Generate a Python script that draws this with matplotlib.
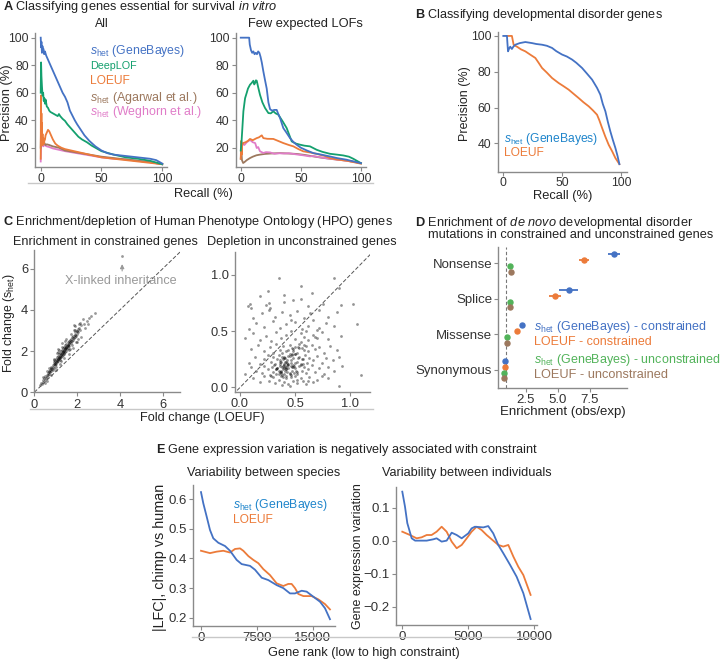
import numpy as np
import matplotlib
matplotlib.use('Agg')
import matplotlib.pyplot as plt
from matplotlib.lines import Line2D

plt.rcParams['font.family'] = ['Liberation Sans', 'DejaVu Sans']
plt.rcParams['mathtext.fontset'] = 'custom'
plt.rcParams['mathtext.rm'] = 'Liberation Sans'
plt.rcParams['mathtext.it'] = 'Liberation Sans:italic'
plt.rcParams['mathtext.bf'] = 'Liberation Sans:bold'

# colours
BLUE = '#4472C4'
LBLUE = '#1F85CB'
GREEN = '#14A06E'
DGREEN = '#52B35A'
ORANGE = '#EC7B3A'
BROWN = '#9C785E'
PINK = '#E07CC8'
AXC = '#8a8a8a'
TXT = '#222222'

# ---------------- data: panel A (all genes) ----------------
a_all_gb_rec = [0, 0.3, 0.6, 1, 1.4, 1.8, 2.2, 2.8, 3.5, 4.5, 5.5, 7, 8.5, 10, 12, 14, 16, 18, 20, 22, 24, 26, 28,
                30, 33, 36, 40, 45, 50, 55, 60, 70, 80, 90, 95, 100]
a_all_gb_prec = [100, 93, 97, 89, 94, 91, 92, 88, 90, 87, 85, 82, 79, 76, 72, 68, 64, 60, 57, 53, 47, 43.5, 40,
                 37, 33, 29, 25, 21, 18, 16, 15, 14, 13, 12, 11, 8.5]
a_all_dl_rec = [0, 0.3, 0.6, 1, 1.5, 2, 2.5, 3, 3.5, 4, 5, 6, 7, 8, 10, 12, 14, 15, 16, 18, 20, 22, 25, 28, 31,
                34, 38, 42, 46, 50, 60, 70, 80, 90, 100]
a_all_dl_prec = [60, 82, 72, 65, 58, 60, 54, 56, 52, 55, 50, 49, 47, 46, 45, 44, 43, 44.5, 43, 41, 39.5, 37, 34,
                 31, 28, 26, 24, 21.5, 19.5, 17.5, 15, 13, 12, 10.5, 8]
a_all_lo_rec = [0, 0.2, 0.4, 0.6, 0.8, 1.0, 1.2, 1.5, 1.8, 2.2, 2.6, 3, 3.5, 4, 5, 6, 7, 8, 9, 10, 12, 14, 17,
                20, 25, 30, 40, 50, 60, 70, 80, 90, 100]
a_all_lo_prec = [12, 58, 30, 45, 22, 38, 25, 30, 22, 27, 23, 25, 26, 29, 31, 33, 32, 30, 28, 26, 23, 21.5, 20,
                 19, 18, 17, 15, 13, 12, 11, 10, 9, 8]
a_all_ag_rec = [0, 0.3, 0.6, 1, 1.5, 2, 3, 4, 5, 7, 10, 15, 20, 30, 40, 50, 60, 70, 80, 90, 100]
a_all_ag_prec = [20, 36, 25, 31, 24, 23, 23.5, 22, 22.5, 22, 21, 20, 18, 16.5, 15, 13.5, 12.5, 11.5, 10.5, 9.5, 8]
a_all_we_rec = [0, 0.3, 0.6, 1, 1.5, 2, 3, 5, 7, 10, 15, 20, 30, 40, 50, 60, 70, 80, 90, 100]
a_all_we_prec = [10, 20, 30, 22, 24, 21, 22, 21, 20.5, 19.5, 18.5, 17.5, 16, 14.5, 13, 12, 11.5, 10.5, 9.5, 8]

# ---------------- data: panel A (few expected LOFs) ----------------
a_few_gb_rec = [0, 7, 7.5, 8.5, 9.5, 10.5, 11.5, 12.5, 13.5, 14.5, 15.5, 16.5, 17.5, 18.8, 20, 21.6, 23, 24.4,
                26, 28, 29.9, 31, 32.7, 35.4, 38, 41, 44, 46.5, 50, 55, 60.4, 67, 74, 80, 88, 94, 100]
a_few_gb_prec = [100, 100, 95, 91, 89, 90, 88, 89, 88, 90, 89, 86, 82, 75.5, 70, 63, 53, 48, 47, 47.5, 47.5,
                 45, 41.6, 34.3, 31, 27, 24, 22.2, 20, 18, 16.1, 15, 13.7, 12.5, 11.3, 10, 8.8]
a_few_dl_rec = [0, 0.7, 1.4, 2.2, 3, 3.6, 5, 6, 7.7, 9, 10.5, 11.2, 11.9, 12.6, 13.3, 14.5, 16, 18, 20.2, 23,
                25, 27.1, 29, 31.3, 35, 38.2, 42.4, 46, 49.4, 53, 57.6, 63.2, 68, 74.2, 80, 85.3, 90, 93.6, 100]
a_few_dl_prec = [18, 25, 35, 46.5, 52, 56, 60, 63, 65.8, 67, 68.7, 66, 67, 69, 68.7, 64, 58.5, 53, 48.9, 45.2,
                 45, 46.5, 45, 44, 39, 34.3, 24.6, 23, 22.2, 21.5, 21, 18.5, 17, 15.6, 15, 14.4, 13.5, 12, 8.8]
a_few_lo_rec = [0, 0.4, 0.8, 1.2, 2, 4, 6, 7.7, 10, 13.3, 15, 17.5, 18.8, 22, 27.1, 31, 35.4, 40, 43.8, 48,
                52, 58, 63.2, 70, 74.2, 80, 88, 94, 100]
a_few_lo_prec = [12, 25, 15, 22, 23.4, 24, 25, 26.4, 25.5, 27, 27.5, 29, 27, 26.5, 26.4, 25, 23.4, 22, 21, 19,
                 17.4, 16.5, 15.5, 14, 12.5, 11.5, 10.6, 9.5, 8.4]
a_few_we_rec = [1.4, 3, 5, 7.7, 10, 12, 13.3, 14.5, 16, 18.8, 21, 24.4, 28, 32, 36, 40, 46, 52, 57.6, 60, 65,
                74, 88, 100]
a_few_we_prec = [23, 22, 24, 25.7, 24, 23.4, 19.8, 20.5, 17.4, 16.2, 16.8, 16.6, 15.6, 16, 15.8, 16, 15.2,
                 14.5, 13.7, 14, 13.2, 12, 10.6, 8.8]
a_few_ag_rec = [0, 0.5, 1, 2, 3, 5, 7.7, 10, 13, 16, 20, 25, 32.7, 40, 46.5, 53, 60.4, 67, 74, 81, 88, 94, 100]
a_few_ag_prec = [12, 18, 11, 8.9, 9.5, 11, 12.5, 13.5, 14.5, 15, 15.5, 15.8, 16.1, 15.8, 15.5, 14.8, 13.7,
                 12.8, 12, 11.3, 10.6, 9.8, 8.8]

# ---------------- data: panel B ----------------
b_gb_rec = [0, 3.1, 3.5, 4, 5, 5.9, 7.3, 8.5, 10.2, 14, 18.7, 24.4, 28, 32.9, 37, 41.4, 45, 49.9, 54, 58.4, 62,
            66.9, 71, 75.4, 79.6, 82.4, 84.5, 86.7, 88.8, 90.9, 93, 95.2, 97, 98.6]
b_gb_prec = [100, 100, 96, 91.4, 93, 94, 92.7, 94, 95.1, 96, 96.6, 96, 95.5, 95.1, 94.5, 93.3, 91.5, 89.6, 88.5,
             86.8, 85, 82.1, 79, 75.6, 71, 67.2, 62, 57.9, 52, 46.7, 42, 37.4, 33, 28.4]
b_lo_rec = [3, 7.3, 8.8, 11.6, 15, 18.7, 23, 27.2, 30, 32.9, 37, 41.4, 47, 51, 55.5, 60, 64, 68, 72.5, 76, 79.6,
            81.5, 83.9, 86.5, 89.5, 92.5, 95.2, 98.6]
b_lo_prec = [100, 100, 95, 94, 92.5, 91.4, 89.5, 87.7, 85, 82.1, 79.5, 76.5, 73.7, 72, 70, 67.5, 65.3, 63, 60.7,
             58.5, 56, 53, 48.6, 44, 39.2, 35.5, 31.8, 28.4]

# ---------------- data: panel C ----------------
c_enr_loeuf = [0.25, 0.3, 0.35, 0.4, 0.42, 0.45, 0.5, 0.52, 0.55, 0.58, 0.6, 0.62, 0.65, 0.68, 0.7, 0.72, 0.75,
               0.77, 0.8, 0.8, 0.82, 0.85, 0.85, 0.88, 0.9, 0.9, 0.92, 0.95, 0.95, 0.97, 1.0, 1.0, 1.02, 1.05,
               1.05, 1.07, 1.1, 1.1, 1.12, 1.15, 1.15, 1.17, 1.2, 1.2, 1.22, 1.25, 1.25, 1.27, 1.3, 1.3, 1.32,
               1.35, 1.35, 1.37, 1.4, 1.4, 1.42, 1.45, 1.45, 1.47, 1.5, 1.5, 1.52, 1.55, 1.55, 1.58, 1.6, 1.6,
               1.62, 1.65, 1.68, 1.7, 1.72, 1.75, 1.78, 1.8, 1.82, 1.85, 1.88, 1.9, 1.92, 1.95, 1.97, 2.0, 2.02,
               2.05, 2.1, 2.15, 2.2, 2.3, 2.45, 2.55, 2.65, 2.85, 1.9, 2.15, 0.6, 1.0, 1.2, 1.4, 1.6, 1.3, 1.1,
               0.9, 1.75, 1.85, 1.15, 1.35, 1.55, 1.25, 1.45,
               0.95, 1.05, 1.12, 1.18, 1.28, 1.33, 1.38, 1.43, 1.48, 1.53, 1.58, 1.63, 1.7, 1.8, 1.9, 2.0,
               0.7, 0.8, 1.25, 1.5,
               0.9, 1.0, 1.1, 1.2, 1.3, 1.4, 1.5, 1.6, 1.7, 1.8, 1.9, 2.0, 2.1, 2.2, 0.7, 0.8, 0.6, 0.5, 0.4,
               1.05, 1.25, 1.45, 1.65, 1.85, 2.05, 2.35, 2.5, 2.25, 1.95, 1.15, 4.1]
c_enr_shet = [0.35, 0.45, 0.4, 0.6, 0.5, 0.7, 0.62, 0.8, 0.7, 0.85, 0.75, 0.95, 0.85, 1.0, 0.9, 1.1, 1.0, 1.15,
              1.05, 1.25, 1.15, 1.3, 1.1, 1.25, 1.35, 1.2, 1.45, 1.3, 1.5, 1.4, 1.45, 1.6, 1.35, 1.55, 1.7, 1.45,
              1.6, 1.75, 1.5, 1.7, 1.85, 1.6, 1.75, 1.9, 1.65, 1.85, 2.0, 1.75, 1.9, 2.05, 1.8, 2.0, 2.15, 1.9,
              2.05, 2.2, 1.95, 2.1, 2.3, 2.0, 2.2, 2.35, 2.1, 2.25, 2.45, 2.15, 2.35, 2.5, 2.25, 2.45, 2.55, 2.4,
              2.6, 2.5, 2.7, 2.55, 2.75, 2.65, 2.8, 2.7, 2.9, 2.75, 2.95, 2.85, 3.05, 2.9, 3.1, 3.0, 3.25, 3.3,
              3.45, 3.6, 3.7, 3.85, 3.2, 3.35, 0.55, 1.25, 1.55, 1.85, 2.05, 2.2, 1.95, 1.55, 2.3, 3.0, 1.65,
              1.95, 2.3, 1.7, 2.15,
              1.38, 1.52, 1.62, 1.72, 1.86, 1.95, 2.02, 2.08, 2.16, 2.24, 2.3, 2.38, 2.48, 2.62, 2.78, 2.95,
              1.05, 1.2, 1.8, 2.18,
              1.6, 1.1, 2.1, 1.35, 2.4, 1.65, 2.6, 1.85, 2.85, 2.15, 3.0, 2.45, 3.3, 2.7, 1.2, 0.85, 1.05,
              0.45, 0.75, 1.9, 1.5, 2.5, 2.1, 3.25, 2.6, 3.1, 3.3, 3.55, 2.45, 2.05, 6.6]

c_dep_loeuf = [0.12, 0.18, 0.22, 0.26, 0.3, 0.32, 0.35, 0.37, 0.4, 0.42, 0.44, 0.46, 0.48, 0.5, 0.52, 0.55,
               0.57, 0.6, 0.63, 0.66, 0.7, 0.74, 0.8, 0.9, 0.38, 0.45, 0.52, 0.28, 0.62,
               0.05, 0.1, 0.15, 0.2, 0.22, 0.25, 0.27, 0.29, 0.3, 0.31, 0.33, 0.34, 0.35, 0.36, 0.37, 0.38,
               0.39, 0.4, 0.4, 0.41, 0.42, 0.43, 0.44, 0.45, 0.46, 0.47, 0.48, 0.49, 0.5, 0.52, 0.54, 0.56,
               0.58, 0.6, 0.62, 0.65, 0.68, 0.72, 0.76, 0.8, 0.85, 0.93, 1.1, 0.36, 0.42, 0.38, 0.44, 0.33,
               0.47, 0.4,
               0.08, 0.14, 0.18, 0.22, 0.25, 0.28, 0.3, 0.32, 0.34, 0.35, 0.37, 0.38, 0.4, 0.41, 0.43, 0.44,
               0.46, 0.48, 0.5, 0.52, 0.54, 0.55, 0.57, 0.59, 0.61, 0.63, 0.66, 0.7, 0.74, 0.78, 0.84, 0.9,
               0.36, 0.42, 0.47, 0.39,
               0.1, 0.16, 0.22, 0.27, 0.3, 0.33, 0.36, 0.39, 0.42, 0.45, 0.48, 0.5, 0.52, 0.54, 0.56, 0.58,
               0.6, 0.62, 0.65, 0.68, 0.72, 0.76, 0.82, 0.88, 0.55, 0.47,
               0.05, 0.12, 0.18, 0.24, 0.28, 0.33, 0.37, 0.42, 0.46, 0.5, 0.55, 0.58, 0.62, 0.66, 0.7, 0.74,
               0.8, 0.92, 0.6, 0.68,
               0.08, 0.15, 0.22, 0.3, 0.36, 0.42, 0.5, 0.56, 0.62, 0.66, 0.72, 0.78, 0.85, 1.06, 0.46, 0.7,
               0.12, 0.2, 0.26, 0.32, 0.38, 0.45, 0.52, 0.58, 0.64, 0.72, 0.8, 0.88,
               0.07, 0.09, 0.1, 0.24, 0.26, 0.27, 0.4, 0.48, 0.62, 0.75, 0.92, 1.03, 0.55,
               0.25, 0.4, 0.35, 0.55, 0.65, 0.85, 0.9, 0.18,
               0.34, 0.36, 0.37, 0.39, 0.41, 0.42, 0.43, 0.45, 0.46, 0.48, 0.5, 0.51, 0.53, 0.55, 0.38, 0.4,
               0.44, 0.47, 0.35, 0.42, 0.39, 0.45, 0.5, 0.53, 0.56, 0.58, 0.43, 0.37, 0.41, 0.46, 0.52, 0.49,
               0.33, 0.44, 0.48, 0.54, 0.36, 0.4, 0.45, 0.57]
c_dep_shet = [0.08, 0.05, 0.1, 0.06, 0.09, 0.04, 0.07, 0.1, 0.05, 0.08, 0.03, 0.09, 0.06, 0.1, 0.04, 0.08,
              0.06, 0.03, 0.09, 0.05, 0.07, 0.1, 0.08, 0.01, 0.02, 0.01, 0.07, 0.1, 0.06,
              0.12, 0.18, 0.15, 0.13, 0.19, 0.16, 0.11, 0.18, 0.14, 0.2, 0.12, 0.17, 0.15, 0.19, 0.13, 0.18,
              0.16, 0.12, 0.2, 0.15, 0.18, 0.14, 0.17, 0.12, 0.19, 0.15, 0.2, 0.13, 0.17, 0.12, 0.19, 0.15,
              0.18, 0.13, 0.16, 0.2, 0.14, 0.17, 0.12, 0.18, 0.15, 0.19, 0.11, 0.14, 0.16, 0.11, 0.2, 0.16,
              0.18, 0.17,
              0.22, 0.27, 0.21, 0.25, 0.29, 0.23, 0.27, 0.21, 0.25, 0.29, 0.23, 0.27, 0.21, 0.26, 0.24, 0.28,
              0.22, 0.26, 0.3, 0.23, 0.27, 0.21, 0.25, 0.29, 0.22, 0.26, 0.24, 0.28, 0.22, 0.26, 0.24, 0.27,
              0.24, 0.23, 0.29, 0.25,
              0.34, 0.38, 0.32, 0.36, 0.31, 0.39, 0.33, 0.37, 0.32, 0.38, 0.34, 0.36, 0.31, 0.39, 0.35, 0.33,
              0.37, 0.32, 0.38, 0.34, 0.36, 0.31, 0.37, 0.33, 0.4, 0.3,
              0.44, 0.48, 0.42, 0.46, 0.41, 0.49, 0.44, 0.47, 0.5, 0.43, 0.48, 0.45, 0.42, 0.47, 0.44, 0.49,
              0.43, 0.46, 0.5, 0.45,
              0.52, 0.57, 0.54, 0.59, 0.53, 0.56, 0.58, 0.52, 0.55, 0.6, 0.53, 0.57, 0.55, 0.56, 0.6, 0.51,
              0.62, 0.66, 0.69, 0.63, 0.67, 0.64, 0.68, 0.62, 0.66, 0.69, 0.63, 0.67,
              0.72, 0.74, 0.71, 0.73, 0.75, 0.71, 0.76, 0.78, 0.72, 0.74, 0.73, 0.74, 0.79,
              0.86, 0.82, 0.97, 0.9, 0.84, 0.97, 0.88, 0.81,
              0.17, 0.21, 0.14, 0.19, 0.23, 0.16, 0.2, 0.13, 0.24, 0.18, 0.22, 0.15, 0.26, 0.2, 0.31, 0.27,
              0.33, 0.35, 0.12, 0.1, 0.09, 0.28, 0.3, 0.36, 0.25, 0.38, 0.22, 0.15, 0.18, 0.11, 0.14, 0.19,
              0.16, 0.21, 0.32, 0.35, 0.23, 0.26, 0.3, 0.21]

# ---------------- data: panel D ----------------
d_categories = ['Nonsense', 'Splice', 'Missense', 'Synonymous']
d_shet_con = [9.4, 5.88, 2.19, 0.88]
d_shet_con_err = [0.45, 0.75, 0.08, 0.05]
d_loeuf_con = [7.08, 4.79, 1.84, 0.88]
d_loeuf_con_err = [0.4, 0.47, 0.08, 0.05]
d_shet_uncon = [1.27, 1.27, 1.06, 0.8]
d_shet_uncon_err = [0.05, 0.05, 0.04, 0.04]
d_loeuf_uncon = [1.33, 1.27, 1.02, 0.8]
d_loeuf_uncon_err = [0.05, 0.05, 0.04, 0.04]

# ---------------- data: panel E ----------------
e_sp_gb_rank = [0, 310, 765, 1209, 1650, 2325, 3223, 3895, 4790, 5460, 6580, 7250, 8150, 9040, 10160, 11050,
                11950, 12620, 13520, 14190, 15080, 15980, 16650, 17320]
e_sp_gb_val = [0.624, 0.586, 0.541, 0.496, 0.468, 0.453, 0.442, 0.426, 0.395, 0.381, 0.375, 0.362, 0.335,
               0.327, 0.31, 0.30, 0.282, 0.282, 0.291, 0.288, 0.271, 0.254, 0.232, 0.195]
e_sp_lo_rank = [0, 1209, 2100, 3000, 3895, 4565, 5240, 5680, 6360, 7030, 7700, 8370, 9260, 10160, 11050, 11720,
                12170, 12620, 13070, 13750, 14860, 15750, 16650, 17320]
e_sp_lo_val = [0.426, 0.418, 0.423, 0.426, 0.42, 0.432, 0.434, 0.426, 0.408, 0.395, 0.384, 0.364, 0.344, 0.316,
               0.307, 0.314, 0.314, 0.30, 0.28, 0.273, 0.273, 0.262, 0.246, 0.228]
e_ind_gb_rank = [0, 203, 379, 712, 970, 1848, 2350, 2600, 2980, 3360, 3740, 4120, 4500, 5000, 5250, 5500, 6140,
                 6510, 6890, 7270, 7650, 8160, 8660, 9170, 9720]
e_ind_gb_val = [0.148, 0.103, 0.053, 0.007, 0.0, 0.0, 0.004, 0.007, -0.003, 0.0, 0.024, 0.017, 0.007, 0.022,
                0.037, 0.042, 0.04, 0.044, 0.022, -0.013, -0.038, -0.073, -0.109, -0.159, -0.237]
e_ind_lo_rank = [0, 580, 1086, 1465, 1848, 2220, 2600, 2980, 3360, 3740, 4120, 4500, 4880, 5250, 5630, 6010,
                 6390, 6770, 7270, 7650, 8030, 8410, 8790, 9170, 9720]
e_ind_lo_val = [0.027, 0.017, 0.007, 0.01, 0.017, 0.017, 0.027, 0.042, 0.027, -0.003, -0.023, -0.013, 0.007,
                0.027, 0.042, 0.032, 0.017, 0.004, -0.013, -0.018, -0.013, -0.048, -0.079, -0.104, -0.164]

# ---------------- layout helpers ----------------
W, H = 720, 661
fig = plt.figure(figsize=(7.2, 6.61), dpi=100)
renderer = fig.canvas.get_renderer()


def box(l, t, r, b):
    return [l / W, 1 - b / H, (r - l) / W, (b - t) / H]


def fit_size(s, width_px):
    # font size that gives the text the width seen in the reference
    t = fig.text(0, 0, s, fontsize=10)
    w = t.get_window_extent(renderer).width
    t.remove()
    return 10 * width_px / w


def ftext(x, y, s, width, **kw):
    kw.setdefault('color', TXT)
    kw.setdefault('va', 'center')
    fig.text(x / W, 1 - y / H, s, fontsize=fit_size(s, width), **kw)


def hline(y, x0, x1):
    fig.add_artist(Line2D([x0 / W, x1 / W], [1 - y / H, 1 - y / H], color='#c8c8c8', lw=1.0))


def style(ax, size):
    for s in ['top', 'right']:
        ax.spines[s].set_visible(False)
    for s in ['left', 'bottom']:
        ax.spines[s].set_color(AXC)
        ax.spines[s].set_linewidth(1.0)
    ax.tick_params(colors=AXC, labelcolor='#333333', labelsize=size, length=3, width=0.8, pad=1.5)
    ax.patch.set_alpha(0)


SHET = r'$s_\mathrm{het}$'
LW = 1.3

# ---------------- panel A ----------------
ftext(3, 7, r'$\mathbf{A}$ Classifying genes essential for survival $\mathit{in\ vitro}$', 273)
ftext(101.5, 24, 'All', 13.5, ha='center')
ftext(305, 24, 'Few expected LOFs', 115, ha='center')

ax = fig.add_axes(box(35, 33, 167, 167))
ax.plot(a_all_we_rec, a_all_we_prec, color=PINK, lw=LW)
ax.plot(a_all_ag_rec, a_all_ag_prec, color=BROWN, lw=LW)
ax.plot(a_all_lo_rec, a_all_lo_prec, color=ORANGE, lw=LW)
ax.plot(a_all_dl_rec, a_all_dl_prec, color=GREEN, lw=LW)
ax.plot(a_all_gb_rec, a_all_gb_prec, color=BLUE, lw=LW)
ax.set_xlim(-4.7, 103.9)
ax.set_ylim(6, 103.4)
ax.set_xticks([0, 50, 100])
ax.set_yticks([20, 40, 60, 80, 100])
style(ax, 8.8)

ax = fig.add_axes(box(235.7, 33, 366, 167))
ax.plot(a_few_ag_rec, a_few_ag_prec, color=BROWN, lw=LW)
ax.plot(a_few_we_rec, a_few_we_prec, color=PINK, lw=LW)
ax.plot(a_few_lo_rec, a_few_lo_prec, color=ORANGE, lw=LW)
ax.plot(a_few_dl_rec, a_few_dl_prec, color=GREEN, lw=LW)
ax.plot(a_few_gb_rec, a_few_gb_prec, color=BLUE, lw=LW)
ax.set_xlim(-4.2, 104.2)
ax.set_ylim(6, 103.4)
ax.set_xticks([0, 50, 100])
ax.set_yticks([20, 40, 60, 80, 100])
style(ax, 8.8)

a_leg = [(SHET + ' (GeneBayes)', BLUE, 51, 95), ('DeepLOF', GREEN, 65.7, 46.7), ('LOEUF', ORANGE, 80.7, 40),
         (SHET + ' (Agarwal et al.)', BROWN, 97.7, 107), (SHET + ' (Weghorn et al.)', PINK, 112.3, 111.7)]
for s, c, y, w in a_leg:
    ftext(90, y, s, w, color=c)

ftext(7, 103, 'Precision (%)', 77, rotation=90, ha='center')
ftext(203, 194, 'Recall (%)', 59, ha='center')
hline(183, 28, 373)

# ---------------- panel B ----------------
ftext(415, 15, r'$\mathbf{B}$ Classifying developmental disorder genes', 248)
ax = fig.add_axes(box(497.7, 32, 626.7, 172))
ax.plot(b_lo_rec, b_lo_prec, color=ORANGE, lw=LW)
ax.plot(b_gb_rec, b_gb_prec, color=BLUE, lw=LW)
ax.set_xlim(-4.76, 104.8)
ax.set_ylim(24, 102.2)
ax.set_xticks([0, 50, 100])
ax.set_yticks([40, 60, 80, 100])
style(ax, 8.8)
ax.tick_params(axis='x', pad=0.5)
ftext(504, 139, SHET + ' (GeneBayes)', 94, color=LBLUE)
ftext(504, 153, 'LOEUF', 40, color=ORANGE)
ftext(465, 104, 'Precision (%)', 75, rotation=90, ha='center')
ftext(563, 196.5, 'Recall (%)', 60, ha='center')

# ---------------- panel C ----------------
ftext(3, 222, r'$\mathbf{C}$ Enrichment/depletion of Human Phenotype Ontology (HPO) genes', 389)
ftext(105.5, 242, 'Enrichment in constrained genes', 185, ha='center')
ftext(301.5, 242, 'Depletion in unconstrained genes', 189, ha='center')

ax = fig.add_axes(box(34.3, 250, 180, 392.3))
ax.plot([0, 7], [0, 7], color='#555555', lw=0.7, ls=(0, (4, 2)))
ax.scatter(c_enr_loeuf, c_enr_shet, s=4, color='black', alpha=0.4, lw=0)
ax.annotate('', xy=(4.1, 6.35), xytext=(4.1, 5.75),
            arrowprops=dict(arrowstyle='-|>', color='#999999', lw=0.8, mutation_scale=6))
ax.text(4.05, 5.4, 'X-linked inheritance', color='#999999', fontsize=fit_size('X-linked inheritance', 112),
        ha='center', va='center')
ax.set_xlim(0, 6.8)
ax.set_ylim(0, 6.9)
ax.set_xticks([0, 2, 4, 6])
ax.set_yticks([0, 2, 4, 6])
style(ax, 9.3)

ax = fig.add_axes(box(235, 251.7, 370, 392))
ax.plot([-0.1, 1.3], [-0.1, 1.3], color='#555555', lw=0.7, ls=(0, (4, 2)))
ax.scatter(c_dep_loeuf, c_dep_shet, s=4, color='black', alpha=0.42, lw=0)
ax.set_xlim(-0.045, 1.18)
ax.set_ylim(-0.04, 1.207)
ax.set_xticks([0, 0.5, 1.0])
ax.set_xticklabels(['0.0', '0.5', '1.0'])
ax.set_yticks([0, 0.5, 1.0])
ax.set_yticklabels(['0.0', '0.5', '1.0'])
style(ax, 9.3)

ftext(9, 323, r'Fold change ($\mathrm{s_{het}}$)', 100, rotation=90, ha='center')
ftext(202.5, 418.3, 'Fold change (LOEUF)', 125, ha='center')
hline(409.3, 30, 373)

# ---------------- panel D ----------------
ftext(415, 222.7, r'$\mathbf{D}$ Enrichment of $\mathit{de\ novo}$ developmental disorder', 278)
ftext(428, 235.5, 'mutations in constrained and unconstrained genes', 285)
ax = fig.add_axes(box(498.3, 246.7, 626.7, 387.7))
ypos = np.array([4, 3, 2, 1])
ax.axvline(1, color='#777777', lw=0.8, ls=(0, (3, 2)))
d_series = [(d_shet_con, d_shet_con_err, BLUE, 0.25), (d_loeuf_con, d_loeuf_con_err, ORANGE, 0.083),
            (d_shet_uncon, d_shet_uncon_err, DGREEN, -0.083), (d_loeuf_uncon, d_loeuf_uncon_err, BROWN, -0.25)]
for vals, err, c, off in d_series:
    ax.errorbar(vals, ypos + off, xerr=err, fmt='o', color=c, ms=3.6, elinewidth=1.3, capsize=0)
ax.set_xlim(0.36, 10.4)
ax.set_ylim(0.49, 4.46)
ax.set_xticks([2.5, 5.0, 7.5])
ax.set_yticks(ypos)
ax.set_yticklabels(d_categories)
style(ax, 9.5)
d_leg = [(SHET + ' (GeneBayes) - constrained', BLUE, 326.7, 173), ('LOEUF - constrained', ORANGE, 341.7, 118),
         (SHET + ' (GeneBayes) - unconstrained', DGREEN, 360, 187), ('LOEUF - unconstrained', BROWN, 375, 134)]
for s, c, y, w in d_leg:
    ftext(533.5, y, s, w, color=c)
ftext(563, 412.3, 'Enrichment (obs/exp)', 126.7, ha='center')

# ---------------- panel E ----------------
ftext(156, 450, r'$\mathbf{E}$ Gene expression variation is negatively associated with constraint', 382)
ftext(263.3, 473, 'Variability between species', 153, ha='center')
ftext(467, 473, 'Variability between individuals', 169, ha='center')

ax = fig.add_axes(box(192.7, 485, 335, 625.7))
ax.plot(e_sp_lo_rank, e_sp_lo_val, color=ORANGE, lw=LW)
ax.plot(e_sp_gb_rank, e_sp_gb_val, color=BLUE, lw=LW)
ax.set_xlim(-1115, 17995)
ax.set_ylim(0.173, 0.648)
ax.set_xticks([0, 7500, 15000])
ax.set_yticks([0.2, 0.3, 0.4, 0.5, 0.6])
style(ax, 9.5)
ftext(233, 505, SHET + ' (GeneBayes)', 95, color=LBLUE)
ftext(233, 520, 'LOEUF', 40, color=ORANGE)

ax = fig.add_axes(box(396, 486.7, 537.3, 625))
ax.plot(e_ind_lo_rank, e_ind_lo_val, color=ORANGE, lw=LW)
ax.plot(e_ind_gb_rank, e_ind_gb_val, color=BLUE, lw=LW)
ax.set_xlim(-477, 10227)
ax.set_ylim(-0.255, 0.163)
ax.set_xticks([0, 5000, 10000])
ax.set_yticks([-0.2, -0.1, 0.0, 0.1])
style(ax, 9.5)

ftext(160, 557, '|LFC|, chimp vs human', 147, rotation=90, ha='center')
ftext(358, 556, 'Gene expression variation', 146, rotation=90, ha='center')
ftext(364, 653.3, 'Gene rank (low to high constraint)', 192, ha='center')
hline(636.7, 191.7, 540)

fig.savefig('out.png', dpi=100)
